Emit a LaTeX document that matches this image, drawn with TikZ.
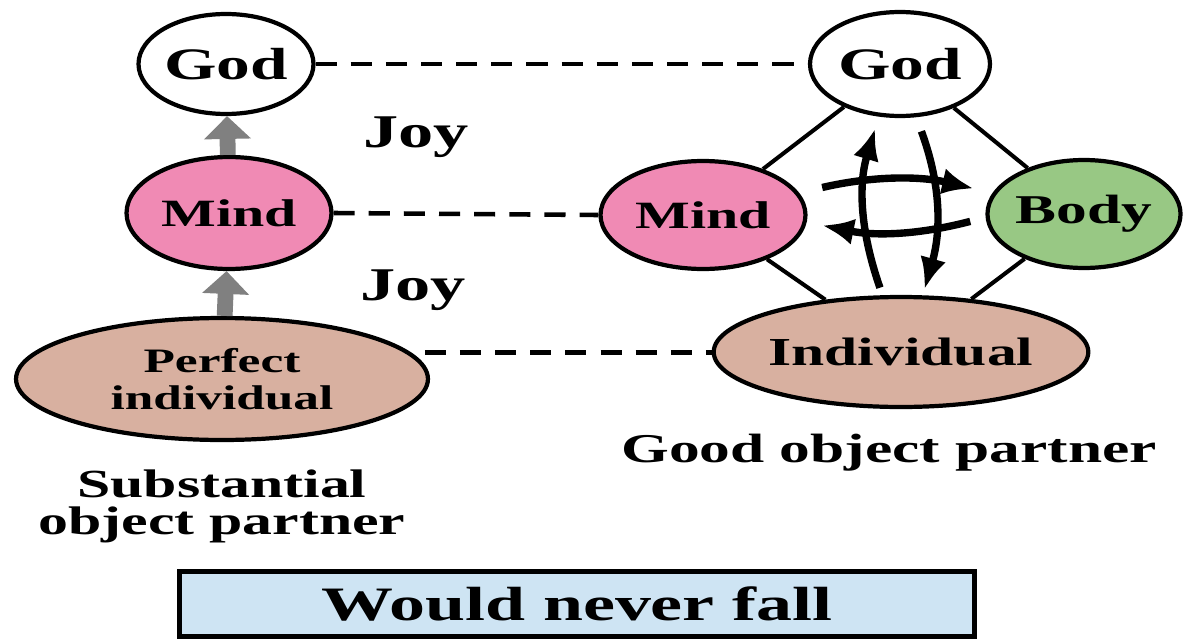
\documentclass[tikz,border=0pt]{standalone}
\usepackage{fontspec}
\setmainfont{Liberation Serif}[FakeStretch=1.5]
\usetikzlibrary{shapes.geometric,arrows.meta}
\definecolor{mindpink}{RGB}{240,138,180}
\definecolor{bodygreen}{RGB}{152,200,132}
\definecolor{indtan}{RGB}{216,176,160}
\definecolor{boxblue}{RGB}{206,228,243}
\newcommand\fs[1]{\bfseries\fontsize{#1}{#1}\selectfont}
\begin{document}
\begin{tikzpicture}[x=0.02cm, y=-0.02cm,
    oval/.style={ellipse, draw, line width=2.4pt, inner sep=0pt},
    dashline/.style={line width=2.6pt, dash pattern=on 12pt off 8pt},
    link/.style={line width=2.3pt},
    loop/.style={line width=4.2pt, -{Latex[length=18pt,width=15pt]}, bend left=18},
    lift/.style={line width=9pt, draw=gray, -{Triangle[length=13pt,width=26pt]}},
    lbl/.style={inner sep=0pt, align=center}]
    \useasboundingbox (0,0) rectangle (1189,642);

    % substantial object partner
    \node[oval, minimum width=3.48cm, minimum height=2cm, fill=white, font=\fs{25.6}] (godL) at (226,64) {God};
    \node[oval, minimum width=4.1cm, minimum height=2.24cm, fill=mindpink, font=\fs{22}] (mindL) at (229,213) {Mind};
    \node[oval, minimum width=8.24cm, minimum height=2.44cm, fill=indtan, align=center,
          font=\bfseries\fontsize{19.5}{21}\selectfont] (perfL) at (222,379) {Perfect\\individual};
    \draw[lift] (mindL) -- (godL);
    \draw[lift] (perfL) -- (mindL);
    \node[lbl, anchor=base, font=\fs{26.7}] (joyA) at (416,147) {Joy};
    \node[lbl, anchor=base, font=\fs{26.7}] (joyB) at (413,300) {Joy};
    \node[lbl, font=\bfseries\fontsize{22.7}{21}\selectfont] (subLbl) at (222,506) {Substantial\\object partner};

    % good object partner
    \node[oval, minimum width=3.6cm, minimum height=2.08cm, fill=white, font=\fs{25.6}] (godR) at (900,64) {God};
    \node[oval, minimum width=4.1cm, minimum height=2.16cm, fill=mindpink, font=\fs{22}] (mindR) at (703,215) {Mind};
    \node[oval, minimum width=3.84cm, minimum height=2.16cm, fill=bodygreen, font=\fs{23.3}] (bodyR) at (1084,214) {Body};
    \node[oval, minimum width=7.04cm, minimum height=2.2cm, fill=indtan, font=\fs{22.6}] (indR) at (901,352) {Individual};
    \draw[link] (godR) -- (mindR);
    \draw[link] (godR) -- (bodyR);
    \draw[link] (mindR) -- (indR);
    \draw[link] (bodyR) -- (indR);
    \draw[loop, shorten <=4.5pt, shorten >=7pt] (indR.108) to (godR.-112);
    \draw[loop, shorten <=8.5pt, shorten >=3.5pt] (godR.-73) to (indR.69);
    \draw[loop, bend left=13, shorten <=13.5pt, shorten >=11pt] (mindR.13) to (bodyR.167);
    \draw[loop, bend left=13, shorten <=9pt, shorten >=9pt] (bodyR.182) to (mindR.-4);
    \node[lbl, anchor=base, font=\fs{23.3}] (goodLbl) at (889,462) {Good object partner};

    % links between the two
    \draw[dashline] (godL) -- (godR);
    \draw[dashline] (mindL.east) -- (mindR.west);
    \draw[dashline, shorten <=8pt] (perfL.8) -- (perfL.8 -| indR.west);

    \node[draw, line width=2.4pt, fill=boxblue, minimum width=15.9cm, minimum height=1.3cm,
          font=\fs{27.3}] (fallBox) at (577,604) {Would never fall};
\end{tikzpicture}
\end{document}
